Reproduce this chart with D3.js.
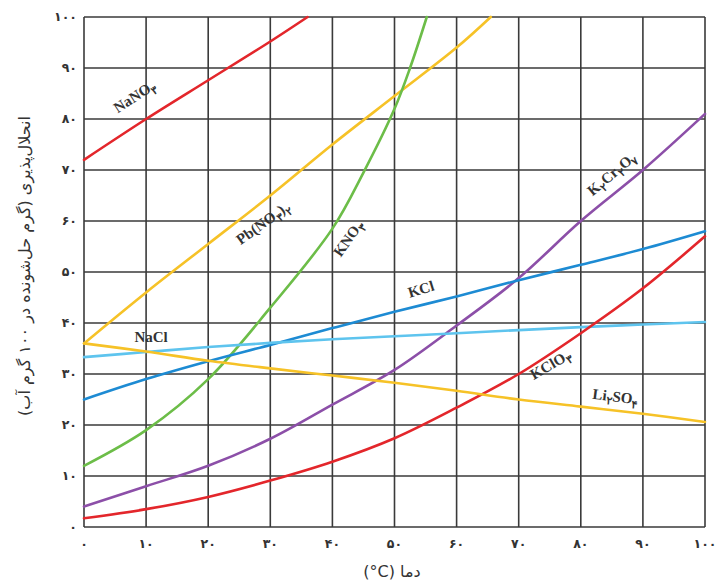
<!DOCTYPE html>
<html>
<head>
<meta charset="utf-8">
<script src="https://cdn.jsdelivr.net/npm/d3@7"></script>
<style>
  body { margin: 0; background: #fff; }
  svg { display: block; }
  .grid line { stroke: #3a3a3a; stroke-width: 1.6; }
  .curve { fill: none; stroke-width: 2.6; stroke-linecap: round; }
  .tick-lbl { font-family: "DejaVu Sans"; font-weight: bold; font-size: 12.5px; fill: #333; }
  .chem { font-family: "Liberation Serif"; font-weight: bold; font-size: 15px; fill: #333; }
  .ttl { font-family: "DejaVu Sans"; font-size: 16px; fill: #333; }
</style>
</head>
<body>
<div id="chart"></div>
<script>
// data: [temperature, solubility]
var NaNO3   = [[0,72],[10,80],[20,87.6],[30,95.2],[36,100]];
var PbNO32  = [[0,36],[10,46],[20,55.5],[30,65],[40,75],[50,84.5],[60,94],[65.5,100]];
var KNO3    = [[0,12],[10,19],[20,29],[30,43],[40,58.5],[45,69.5],[50,82],[52.5,90],[55.2,100]];
var K2Cr2O7 = [[0,4],[10,8],[20,12],[30,17.3],[40,24],[50,30.8],[60,39.5],[70,48.8],[80,60],[90,70],[100,81]];
var KCl     = [[0,25],[10,29],[20,32.5],[30,35.7],[40,39],[50,42.2],[60,45.2],[70,48.4],[80,51.4],[90,54.5],[100,58]];
var NaCl    = [[0,33.3],[10,34.3],[20,35.3],[30,36.1],[40,36.8],[50,37.4],[60,38],[70,38.6],[80,39.2],[90,39.7],[100,40.2]];
var Li2SO4  = [[0,36],[10,34.4],[20,32.6],[30,31.1],[40,29.7],[50,28.3],[60,26.7],[70,25],[80,23.6],[90,22.2],[100,20.6]];
var KClO3   = [[0,1.7],[10,3.5],[20,5.9],[30,9.1],[40,12.8],[50,17.4],[60,23.4],[70,30],[80,38],[90,46.8],[100,57]];

var ticks = [0,10,20,30,40,50,60,70,80,90,100];
var faDigits = "۰۱۲۳۴۵۶۷۸۹";
function fa(n) { return String(n).replace(/[0-9]/g, function(c){ return faDigits[+c]; }); }

// series: name pieces (text, is subscript), colour, data, label spot [x,y,angle]
var series = [
  {parts:[["NaNO",0],["۳",1]], color:"#e3262b", data:NaNO3, lab:[8.6,83.6,-33]},
  {parts:[["Pb(NO",0],["۳",1],[")",0],["۲",1]], color:"#f6c227", data:PbNO32, lab:[29.3,58.8,-36]},
  {parts:[["KNO",0],["۳",1]], color:"#6cbd48", data:KNO3, lab:[43.2,56,-55]},
  {parts:[["K",0],["۲",1],["Cr",0],["۲",1],["O",0],["۷",1]], color:"#8c4fa8", data:K2Cr2O7, lab:[85.5,68.5,-40]},
  {parts:[["KCl",0]], color:"#1d8bd3", data:KCl, lab:[54.5,45.7,-17]},
  {parts:[["NaCl",0]], color:"#5ec4ee", data:NaCl, lab:[10.8,36.2,0]},
  {parts:[["KClO",0],["۳",1]], color:"#e3262b", data:KClO3, lab:[75.5,31,-30]},
  {parts:[["Li",0],["۲",1],["SO",0],["۴",1]], color:"#f6c227", data:Li2SO4, lab:[85.5,24.6,7]}
];

var W = 716, H = 581;
var svg = d3.select("#chart").append("svg").attr("width", W).attr("height", H);

var x = d3.scaleLinear().domain([0,100]).range([84,705]);
var y = d3.scaleLinear().domain([0,100]).range([527,17]);

// grid
var g = svg.append("g").attr("class","grid");
g.selectAll(".vx").data(ticks).enter().append("line")
  .attr("x1", d=>x(d)).attr("x2", d=>x(d)).attr("y1", y(0)).attr("y2", y(100));
g.selectAll(".hy").data(ticks).enter().append("line")
  .attr("y1", d=>y(d)).attr("y2", d=>y(d)).attr("x1", x(0)).attr("x2", x(100));

// tick labels
svg.selectAll(".yl").data(ticks).enter().append("text")
  .attr("class","tick-lbl").attr("text-anchor","end").attr("direction","ltr")
  .attr("x", 77).attr("y", d=>y(d)).attr("dy","0.35em").text(d=>fa(d));
svg.selectAll(".xl").data(ticks).enter().append("text")
  .attr("class","tick-lbl").attr("text-anchor","middle").attr("direction","ltr")
  .attr("x", d=>x(d)).attr("y", 548).text(d=>fa(d));

// curves
var line = d3.line().x(d=>x(d[0])).y(d=>y(d[1])).curve(d3.curveCatmullRom.alpha(0.5));
svg.selectAll(".curve").data(series).enter().append("path")
  .attr("class","curve").attr("stroke", d=>d.color).attr("d", d=>line(d.data));

// labels
series.forEach(function(s){
  var t = svg.append("text").attr("class","chem").attr("text-anchor","middle")
    .attr("transform","translate(" + x(s.lab[0]) + "," + y(s.lab[1]) + ") rotate(" + s.lab[2] + ")");
  var wasSub = false;
  s.parts.forEach(function(p){
    var sp = t.append("tspan").text(p[0]);
    if (p[1]) { sp.attr("font-size","11px").attr("dy", wasSub ? 0 : 4); wasSub = true; }
    else if (wasSub) { sp.attr("dy", -4); wasSub = false; }
  });
});

// axis titles
svg.append("text").attr("class","ttl").attr("text-anchor","middle")
  .attr("font-size","17px").attr("direction","ltr")
  .attr("x", 392).attr("y", 577).text("(°C) دما");
svg.append("text").attr("class","ttl").attr("text-anchor","middle").attr("direction","rtl")
  .attr("transform","translate(30,266) rotate(-90)")
  .text("انحلال‌پذیری (گرم حل‌شونده در ۱۰۰ گرم آب)");
</script>
</body>
</html>
